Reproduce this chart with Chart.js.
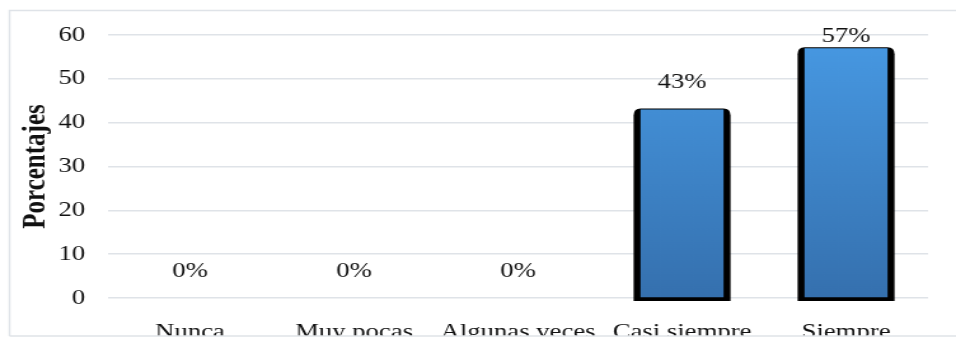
<!DOCTYPE html>
<html>
<head>
<meta charset="utf-8">
<script src="https://cdn.jsdelivr.net/npm/chart.js@4"></script>
<style>
  html, body { margin: 0; padding: 0; background: #fff; overflow: hidden; }
  /* the reference is stretched horizontally by ~1.27, so draw narrower and stretch */
  #wrap { width: 752px; height: 339px; position: relative; transform: scaleX(1.2713); transform-origin: 0 0; }
</style>
</head>
<body>
<div id="wrap"><canvas id="chart"></canvas></div>
<script>
// Data
const categories = ['Nunca', 'Muy pocas', 'Algunas veces', 'Casi siempre', 'Siempre'];
const percentages = [0, 0, 0, 43, 57];
const valueLabels = ['0%', '0%', '0%', '43%', '57%'];
const yTicks = [0, 10, 20, 30, 40, 50, 60];

const FONT = "'Liberation Serif', 'Times New Roman', serif";
const gridColor = '#dfe3e8';

// Black "shadow" frame behind each bar
const shadowPlugin = {
  id: 'barShadow',
  beforeDatasetsDraw(chart) {
    const ctx = chart.ctx;
    const meta = chart.getDatasetMeta(0);
    const base = chart.scales.y.getPixelForValue(0);
    ctx.save();
    ctx.fillStyle = '#000';
    meta.data.forEach((bar, i) => {
      if (!percentages[i]) return;
      const half = bar.width / 2 + 5.5;
      const left = bar.x - half;
      const right = bar.x + half;
      const top = bar.y - 1;
      const bottom = base + 3;
      const rx = 5.5, ry = 7;
      ctx.beginPath();
      ctx.moveTo(left, bottom);
      ctx.lineTo(left, top + ry);
      ctx.quadraticCurveTo(left, top, left + rx, top);
      ctx.lineTo(right - rx, top);
      ctx.quadraticCurveTo(right, top, right, top + ry);
      ctx.lineTo(right, bottom);
      ctx.closePath();
      ctx.fill();
    });
    ctx.restore();
  }
};

// Value labels above the bars
const labelPlugin = {
  id: 'valueLabels',
  afterDatasetsDraw(chart) {
    const ctx = chart.ctx;
    const meta = chart.getDatasetMeta(0);
    ctx.save();
    ctx.font = '21px ' + FONT;
    ctx.fillStyle = '#111';
    ctx.textAlign = 'center';
    ctx.textBaseline = 'middle';
    meta.data.forEach((bar, i) => {
      const y = Math.max(bar.y - 27, chart.chartArea.top + 1);
      ctx.fillText(valueLabels[i], bar.x, y);
    });
    ctx.restore();
  }
};

// Outer chart frame, clipping the category labels at the bottom
const framePlugin = {
  id: 'frame',
  afterDraw(chart) {
    const ctx = chart.ctx;
    ctx.save();
    ctx.fillStyle = '#fff';
    ctx.fillRect(0, 336, chart.width, chart.height - 336);
    ctx.strokeStyle = gridColor;
    ctx.lineWidth = 1.5;
    ctx.beginPath();
    ctx.moveTo(7.5, 336);
    ctx.lineTo(7.5, 10.5);
    ctx.lineTo(chart.width, 10.5);
    ctx.moveTo(7.5, 336);
    ctx.lineTo(chart.width, 336);
    ctx.stroke();
    ctx.restore();
  }
};

const canvas = document.getElementById('chart');

new Chart(canvas, {
  type: 'bar',
  data: {
    labels: categories,
    datasets: [{
      label: 'Porcentajes',
      data: percentages,
      backgroundColor: function(context) {
        const area = context.chart.chartArea;
        if (!area) return '#4090d8';
        const g = context.chart.ctx.createLinearGradient(0, area.top, 0, area.bottom);
        g.addColorStop(0, '#4799e3');
        g.addColorStop(1, '#3570ae');
        return g;
      },
      borderWidth: 0,
      categoryPercentage: 1,
      barPercentage: 0.506
    }]
  },
  options: {
    responsive: true,
    maintainAspectRatio: false,
    animation: false,
    layout: {
      padding: { top: 35, right: 22, bottom: 0, left: 0 }
    },
    plugins: {
      legend: { display: false },
      tooltip: { enabled: false }
    },
    scales: {
      x: {
        grid: { display: false, drawTicks: false },
        border: { display: false },
        ticks: {
          color: '#111',
          padding: 22,
          maxRotation: 0,
          autoSkip: false,
          font: { family: FONT, size: 21 }
        },
        afterFit(scale) { scale.height = 41; }
      },
      y: {
        min: 0,
        max: 60,
        afterBuildTicks(scale) {
          scale.ticks = yTicks.map(v => ({ value: v }));
        },
        grid: { color: gridColor, lineWidth: 1.5, drawTicks: false },
        border: { display: false },
        ticks: {
          color: '#111',
          padding: 18,
          font: { family: FONT, size: 21 }
        },
        title: {
          display: true,
          text: 'Porcentajes',
          color: '#111',
          padding: { top: 14, bottom: 0 },
          font: { family: FONT, size: 25, weight: 'bold' }
        },
        afterFit(scale) { scale.width = 85; }
      }
    }
  },
  plugins: [shadowPlugin, labelPlugin, framePlugin]
});
</script>
</body>
</html>
